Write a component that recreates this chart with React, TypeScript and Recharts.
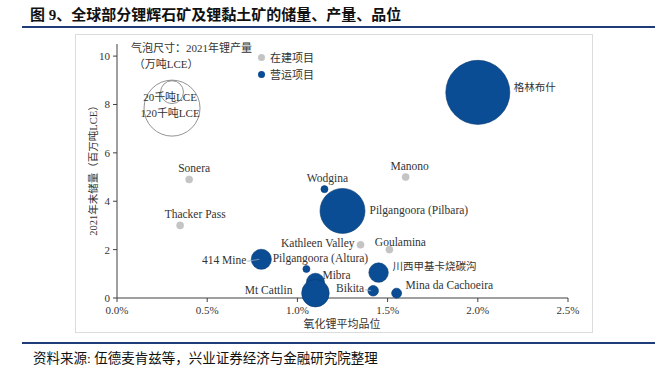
import { Scatter, ScatterChart, XAxis, YAxis, ZAxis } from "recharts";

// 营运项目 (operating)
const operNames = ["格林布什", "Pilgangoora (Pilbara)", "Wodgina", "川西甲基卡烧碳沟", "Bikita", "Mina da Cachoeira", "Mibra", "Mt Cattlin", "Pilgangoora (Altura)", "414 Mine"];
const operGrade = [2.0, 1.25, 1.15, 1.45, 1.42, 1.55, 1.1, 1.1, 1.05, 0.8];
const operReserve = [8.5, 3.6, 4.5, 1.05, 0.3, 0.2, 0.65, 0.2, 1.2, 1.6];
const operOutput = [15.7, 7.75, 0.19, 1.45, 0.43, 0.38, 1.25, 2.9, 0.19, 1.55];

// 在建项目 (under construction)
const buildNames = ["Manono", "Kathleen Valley", "Goulamina", "Sonera", "Thacker Pass"];
const buildGrade = [1.6, 1.35, 1.51, 0.4, 0.35];
const buildReserve = [5.0, 2.2, 2.0, 4.9, 3.0];

// bubble size key
const keyLabels = ["120千吨LCE", "20千吨LCE"];
const keyOutput = [12, 2];
const keyGrade = [0.305, 0.305];
const keyReserve = [7.85, 8.51];

const xTicks = [0, 0.5, 1, 1.5, 2, 2.5];
const yTicks = [0, 2, 4, 6, 8, 10];

// label placement: [dx, dy, anchor, leader]
const place: Record<string, [number, number, string, boolean?]> = {
  "格林布什": [36, -4, "start"],
  "Pilgangoora (Pilbara)": [27, 0, "start"],
  Wodgina: [3, -10, "middle"],
  "川西甲基卡烧碳沟": [14, -5, "start"],
  Bikita: [-9, -1, "end", true],
  "Mina da Cachoeira": [9, -7, "start"],
  Mibra: [7, -6, "start"],
  "Mt Cattlin": [-23, -2, "end"],
  "Pilgangoora (Altura)": [14, -10, "middle"],
  "414 Mine": [-15, 2, "end", true],
  Manono: [4, -10, "middle"],
  "Kathleen Valley": [-6, 0, "end"],
  Goulamina: [11, -6, "middle"],
  Sonera: [5, -10, "middle"],
  "Thacker Pass": [15, -10, "middle"],
};

const oper = operNames.map((name, i) => ({ name, x: operGrade[i], y: operReserve[i], z: operOutput[i] }));
const build = buildNames.map((name, i) => ({ name, x: buildGrade[i], y: buildReserve[i] }));
const key = keyLabels.map((name, i) => ({ name, x: keyGrade[i], y: keyReserve[i], z: keyOutput[i] }));

const FONT = '"Liberation Serif", "Noto Sans CJK SC", serif';
const BLUE = "#0b4d94";
const GREY = "#c4c4c4";

const Bubble = (props: any) => {
  const { cx, cy, width, payload, fill } = props;
  const r = width / 2;
  const p = place[payload.name] || [0, 0, "start"];
  const isCjk = /[\u4e00-\u9fff]/.test(payload.name);
  return (
    <g>
      <circle cx={cx} cy={cy} r={r} fill={fill} stroke={fill === BLUE ? "#083a70" : GREY} strokeWidth={0.6} />
      {p[3] && <line x1={cx + p[0] + 1} y1={cy + p[1]} x2={cx - 2} y2={cy} stroke="#9ab" strokeWidth={0.8} />}
      <text x={cx + p[0]} y={cy + p[1]} textAnchor={p[2]} dominantBaseline="middle" fontSize={isCjk ? 10.5 : 11.5} fill="#333" fontFamily={FONT}>
        {payload.name}
      </text>
    </g>
  );
};

const KeyBubble = (props: any) => {
  const { cx, cy, width, payload } = props;
  return (
    <g>
      <circle cx={cx} cy={cy} r={width / 2} fill="none" stroke="#777" strokeWidth={0.8} />
      <text x={cx - 2} y={cy + 6} textAnchor="middle" dominantBaseline="middle" fontSize={11} fill="#333" fontFamily={FONT}>
        {payload.name}
      </text>
    </g>
  );
};

const abs = (style: React.CSSProperties): React.CSSProperties => ({ position: "absolute", fontFamily: FONT, color: "#333", whiteSpace: "nowrap", ...style });

export default function App() {
  return (
    <div style={{ position: "absolute", left: 0, top: 0, width: 667, height: 367, background: "#fff", fontFamily: FONT }}>
      <div style={abs({ left: 30, top: 3, fontSize: 15, fontWeight: "bold", color: "#111" })}>图 9、全球部分锂辉石矿及锂黏土矿的储量、产量、品位</div>
      <div style={{ position: "absolute", left: 22, top: 26, width: 633, height: 2, background: "#1f3c78" }} />
      <div style={{ position: "absolute", left: 75, top: 34, width: 518, height: 299, border: "1px solid #dcdcdc", boxSizing: "border-box" }} />

      <div style={{ position: "absolute", left: 0, top: 0 }}>
        <ScatterChart width={667} height={367} margin={{ top: 44, right: 99, left: 87, bottom: 39 }}>
          <XAxis type="number" dataKey="x" domain={[0, 2.5]} ticks={xTicks} tickFormatter={(v: number) => v.toFixed(1) + "%"} tick={{ fontSize: 11, fill: "#333", fontFamily: FONT }} stroke="#404040" tickSize={4} tickMargin={4} height={30} />
          <YAxis type="number" dataKey="y" domain={[0, 10.5]} ticks={yTicks} tick={{ fontSize: 11, fill: "#333", fontFamily: FONT }} stroke="#404040" tickSize={4} tickMargin={3} width={30} />
          <ZAxis zAxisId="prod" type="number" dataKey="z" domain={[0, 16]} range={[0, 3283]} />
          <ZAxis zAxisId="fixed" type="number" dataKey="y" range={[40, 40]} />
          <Scatter data={key} zAxisId="prod" shape={KeyBubble} isAnimationActive={false} />
          <Scatter data={build} zAxisId="fixed" fill={GREY} shape={Bubble} isAnimationActive={false} />
          <Scatter data={oper} zAxisId="prod" fill={BLUE} shape={Bubble} isAnimationActive={false} />
        </ScatterChart>
      </div>

      <div style={abs({ left: 131, top: 40, fontSize: 11, lineHeight: "16px" })}>
        气泡尺寸：2021年锂产量
        <br />
        &nbsp;（万吨LCE）
      </div>
      <div style={{ position: "absolute", left: 258, top: 54, width: 7, height: 7, borderRadius: "50%", background: GREY }} />
      <div style={abs({ left: 270, top: 49, fontSize: 11 })}>在建项目</div>
      <div style={{ position: "absolute", left: 258, top: 71, width: 7, height: 7, borderRadius: "50%", background: BLUE }} />
      <div style={abs({ left: 270, top: 66, fontSize: 11 })}>营运项目</div>

      <div style={abs({ left: 92, top: 168, fontSize: 10.5, transform: "translate(-50%, -50%) rotate(-90deg)" })}>2021年末储量（百万吨LCE）</div>
      <div style={abs({ left: 342, top: 323, fontSize: 11, transform: "translate(-50%, -50%)" })}>氧化锂平均品位</div>

      <div style={{ position: "absolute", left: 22, top: 342, width: 633, height: 2, background: "#1f3c78" }} />
      <div style={abs({ left: 33, top: 347, fontSize: 13.5, color: "#111" })}>资料来源: 伍德麦肯兹等，兴业证券经济与金融研究院整理</div>
    </div>
  );
}
